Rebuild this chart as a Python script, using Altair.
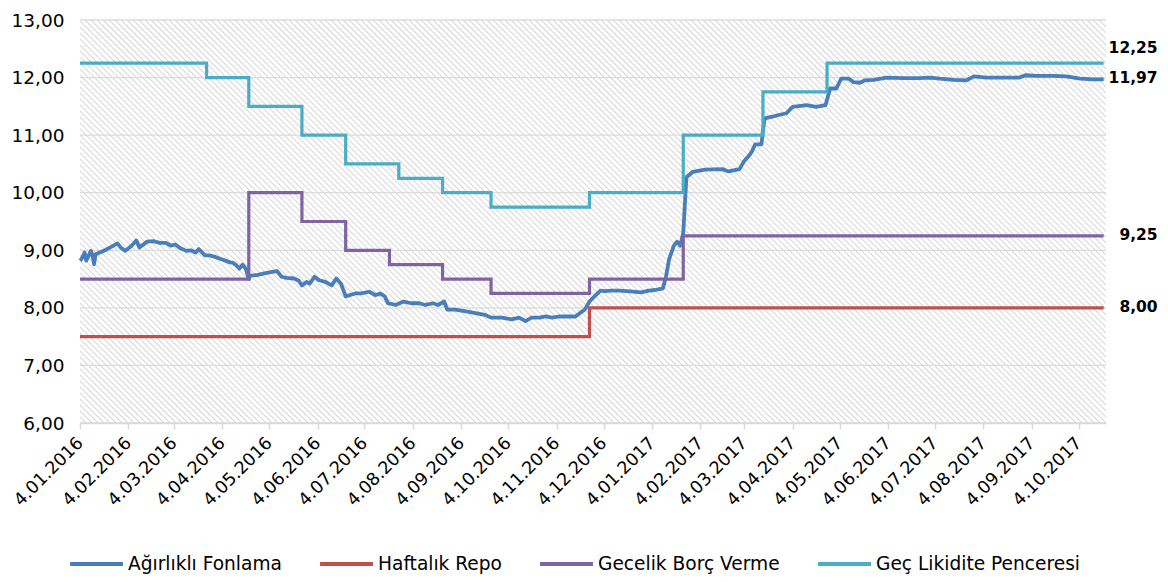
import altair as alt
import pandas as pd

# ---------------- data ----------------
series_names = ["Ağırlıklı Fonlama", "Haftalık Repo", "Gecelik Borç Verme", "Geç Likidite Penceresi"]
series_colors = ["#4a7ebb", "#c0504d", "#8064a2", "#4bacc6"]

fonlama_dates = [
    "2016-01-04", "2016-01-05", "2016-01-07", "2016-01-08", "2016-01-11", "2016-01-12", "2016-01-13",
    "2016-01-14", "2016-01-20", "2016-01-24", "2016-01-28", "2016-01-30", "2016-02-02", "2016-02-06",
    "2016-02-09", "2016-02-11", "2016-02-16", "2016-02-20", "2016-02-24", "2016-02-28", "2016-03-02",
    "2016-03-05", "2016-03-08", "2016-03-12", "2016-03-15", "2016-03-18", "2016-03-20", "2016-03-24",
    "2016-03-27", "2016-03-31", "2016-04-03", "2016-04-06", "2016-04-09", "2016-04-11", "2016-04-13",
    "2016-04-15", "2016-04-17", "2016-04-19", "2016-04-21", "2016-04-22", "2016-04-26", "2016-05-01",
    "2016-05-05", "2016-05-09", "2016-05-12", "2016-05-15", "2016-05-20", "2016-05-23", "2016-05-25",
    "2016-05-28", "2016-05-30", "2016-06-02", "2016-06-05", "2016-06-09", "2016-06-13", "2016-06-16",
    "2016-06-19", "2016-06-22", "2016-06-28", "2016-07-02", "2016-07-07", "2016-07-11", "2016-07-14",
    "2016-07-17", "2016-07-19", "2016-07-24", "2016-07-29", "2016-08-03", "2016-08-08", "2016-08-12",
    "2016-08-17", "2016-08-20", "2016-08-24", "2016-08-26", "2016-08-31", "2016-09-07", "2016-09-13",
    "2016-09-19", "2016-09-23", "2016-09-30", "2016-10-06", "2016-10-11", "2016-10-15", "2016-10-19",
    "2016-10-24", "2016-10-28", "2016-11-01", "2016-11-06", "2016-11-11", "2016-11-16", "2016-11-19",
    "2016-11-22", "2016-11-25", "2016-11-29", "2016-12-02", "2016-12-05", "2016-12-09", "2016-12-14",
    "2016-12-19", "2016-12-28", "2017-01-02", "2017-01-06", "2017-01-11", "2017-01-13", "2017-01-15",
    "2017-01-18", "2017-01-20", "2017-01-22", "2017-01-24", "2017-01-26", "2017-01-30", "2017-02-07",
    "2017-02-18", "2017-02-22", "2017-03-01", "2017-03-04", "2017-03-07", "2017-03-09", "2017-03-11",
    "2017-03-15", "2017-03-17", "2017-03-22", "2017-03-26", "2017-03-31", "2017-04-04", "2017-04-13",
    "2017-04-19", "2017-04-25", "2017-04-28", "2017-05-02", "2017-05-05", "2017-05-10", "2017-05-13",
    "2017-05-17", "2017-05-20", "2017-05-26", "2017-06-03", "2017-06-14", "2017-06-24", "2017-07-01",
    "2017-07-07", "2017-07-16", "2017-07-24", "2017-07-29", "2017-08-06", "2017-08-19", "2017-08-27",
    "2017-08-31", "2017-09-07", "2017-09-18", "2017-09-26", "2017-10-05", "2017-10-13", "2017-10-20",
]
fonlama_values = [
    8.82, 8.85, 8.96, 8.82, 8.99, 8.91, 8.76,
    8.93, 9.00, 9.06, 9.12, 9.05, 8.99, 9.08,
    9.17, 9.05, 9.15, 9.16, 9.13, 9.13, 9.08,
    9.10, 9.04, 8.99, 9.00, 8.96, 9.02, 8.91,
    8.91, 8.88, 8.85, 8.82, 8.79, 8.78, 8.74,
    8.68, 8.75, 8.68, 8.50, 8.56, 8.57, 8.60,
    8.62, 8.64, 8.54, 8.52, 8.51, 8.47, 8.39,
    8.45, 8.42, 8.54, 8.48, 8.45, 8.39, 8.51,
    8.42, 8.20, 8.25, 8.25, 8.28, 8.22, 8.25,
    8.20, 8.08, 8.05, 8.11, 8.08, 8.08, 8.05,
    8.08, 8.05, 8.11, 7.97, 7.97, 7.94, 7.91,
    7.88, 7.83, 7.83, 7.80, 7.83, 7.77, 7.83,
    7.83, 7.85, 7.83, 7.85, 7.85, 7.85, 7.91,
    7.97, 8.11, 8.22, 8.30, 8.29, 8.30, 8.30,
    8.29, 8.27, 8.30, 8.31, 8.34, 8.55, 8.85,
    9.08, 9.15, 9.08, 9.30, 10.27, 10.36, 10.40,
    10.41, 10.37, 10.41, 10.55, 10.64, 10.72, 10.84,
    10.84, 11.29, 11.32, 11.35, 11.38, 11.49, 11.52,
    11.49, 11.52, 11.81, 11.81, 11.98, 11.98, 11.92,
    11.91, 11.95, 11.96, 12.00, 11.99, 11.99, 12.00,
    11.98, 11.96, 11.95, 12.02, 12.00, 12.00, 12.00,
    12.04, 12.03, 12.03, 12.02, 11.98, 11.97, 11.97,
]

repo_dates = ["2016-01-04", "2016-11-25", "2017-10-20"]
repo_values = [7.50, 8.00, 8.00]

borc_dates = ["2016-01-04", "2016-04-21", "2016-05-25", "2016-06-22", "2016-07-20",
              "2016-08-23", "2016-09-23", "2016-11-25", "2017-01-24", "2017-10-20"]
borc_values = [8.50, 10.00, 9.50, 9.00, 8.75, 8.50, 8.25, 8.50, 9.25, 9.25]

glp_dates = ["2016-01-04", "2016-03-25", "2016-04-21", "2016-05-25", "2016-06-22", "2016-07-26",
             "2016-08-23", "2016-09-23", "2016-11-25", "2017-01-24", "2017-03-16", "2017-04-26",
             "2017-10-20"]
glp_values = [12.25, 12.00, 11.50, 11.00, 10.50, 10.25, 10.00, 9.75, 10.00, 11.00, 11.75, 12.25, 12.25]

end_date = "2017-10-20"
end_label_values = [12.25, 11.97, 9.25, 8.00]

y_ticks = [6, 7, 8, 9, 10, 11, 12, 13]
x_tick_dates = [
    "2016-01-04", "2016-02-04", "2016-03-04", "2016-04-04", "2016-05-04", "2016-06-04",
    "2016-07-04", "2016-08-04", "2016-09-04", "2016-10-04", "2016-11-04", "2016-12-04",
    "2017-01-04", "2017-02-04", "2017-03-04", "2017-04-04", "2017-05-04", "2017-06-04",
    "2017-07-04", "2017-08-04", "2017-09-04", "2017-10-04",
]

# ---------------- layout / style ----------------
W, H = 1026, 403
FONT = "DejaVu Sans"
HATCH_STEP = 6


def dt(s):
    parts = s.split("-")
    return alt.DateTime(year=int(parts[0]), month=int(parts[1]), date=int(parts[2]), utc=True)


fon_df = pd.DataFrame({"date": fonlama_dates, "value": fonlama_values, "series": series_names[0]})
step_df = pd.concat([
    pd.DataFrame({"date": repo_dates, "value": repo_values, "series": series_names[1]}),
    pd.DataFrame({"date": borc_dates, "value": borc_values, "series": series_names[2]}),
    pd.DataFrame({"date": glp_dates, "value": glp_values, "series": series_names[3]}),
], ignore_index=True)
end_df = pd.DataFrame({"date": [end_date] * len(end_label_values), "value": end_label_values})
grid_df = pd.DataFrame({"v": y_ticks})

offsets = list(range(-H, W + HATCH_STEP, HATCH_STEP))
hatch_df = pd.DataFrame({
    "x1": offsets,
    "x2": [o + H for o in offsets],
    "y1": [H] * len(offsets),
    "y2": [0] * len(offsets),
})

x_scale = alt.Scale(type="utc", domain=[dt("2016-01-04"),
                                        alt.DateTime(year=2017, month=10, date=21, hours=12, utc=True)],
                    nice=False)
y_scale = alt.Scale(domain=[6, 13], nice=False, zero=False)
color_scale = alt.Scale(domain=series_names, range=series_colors)

x_axis = alt.Axis(
    values=[dt(d) for d in x_tick_dates],
    labelExpr="utcFormat(datum.value, '%-d.%m.%Y')",
    labelAngle=-45, labelAlign="right", labelBaseline="middle",
    labelFont=FONT, labelFontSize=17.5, labelColor="#000000",
    labelPadding=11, labelOverlap=False, labelBound=False, labelFlush=False,
    tickSize=6, tickColor="#d9d9d9", tickWidth=1.5,
    domainColor="#d9d9d9", domainWidth=1.5,
    grid=False, title=None, zindex=1,
)
y_axis = alt.Axis(
    values=y_ticks,
    labelExpr="replace(format(datum.value, '.2f'), '.', ',')",
    labelFont=FONT, labelFontSize=18.5, labelColor="#000000",
    labelPadding=16, ticks=False, domain=False, grid=False, title=None,
)

legend = alt.Legend(
    orient="none", legendX=-12, legendY=515, direction="horizontal", columns=4,
    title=None, symbolType="stroke", symbolSize=2800, symbolStrokeWidth=4,
    labelFont=FONT, labelFontSize=18.6, labelColor="#000000", labelLimit=400,
    labelOffset=3, columnPadding=30,
)

hatch = alt.Chart(hatch_df).mark_rule(color="#d8d8d8", strokeWidth=1.1, clip=True).encode(
    x=alt.X("x1:Q", scale=alt.Scale(domain=[0, W], nice=False, zero=False), axis=None),
    x2="x2:Q",
    y=alt.Y("y1:Q", scale=alt.Scale(domain=[0, H], nice=False, zero=False), axis=None),
    y2="y2:Q",
)

grid = alt.Chart(grid_df).mark_rule(color="#dcdcdc", strokeWidth=1.3).encode(
    y=alt.Y("v:Q", scale=y_scale, axis=y_axis),
)

fon_line = alt.Chart(fon_df).mark_line(strokeWidth=3.8, strokeJoin="round").encode(
    x=alt.X("date:T", scale=x_scale, axis=x_axis),
    y=alt.Y("value:Q", scale=y_scale),
    color=alt.Color("series:N", scale=color_scale, legend=legend),
)

step_lines = alt.Chart(step_df).mark_line(strokeWidth=3.2, interpolate="step-after").encode(
    x=alt.X("date:T", scale=x_scale),
    y=alt.Y("value:Q", scale=y_scale),
    color=alt.Color("series:N", scale=color_scale, legend=legend),
    detail="series:N",
)

label_base = alt.Chart(end_df).transform_calculate(
    label="replace(format(datum.value, '.2f'), '.', ',')"
)
labels_main = label_base.transform_filter("datum.value < 12.1").mark_text(
    align="right", baseline="middle", dx=54, dy=-1,
    font=FONT, fontSize=15.5, fontWeight="bold", color="#000000",
).encode(x=alt.X("date:T", scale=x_scale), y=alt.Y("value:Q", scale=y_scale), text="label:N")
labels_top = label_base.transform_filter("datum.value >= 12.1").mark_text(
    align="right", baseline="middle", dx=54, dy=-15,
    font=FONT, fontSize=15.5, fontWeight="bold", color="#000000",
).encode(x=alt.X("date:T", scale=x_scale), y=alt.Y("value:Q", scale=y_scale), text="label:N")

main = alt.layer(grid, fon_line, step_lines, labels_main, labels_top)

chart = alt.layer(hatch, main).resolve_scale(x="independent", y="independent").properties(
    width=W, height=H,
    autosize=alt.AutoSizeParams(type="none"),
    padding={"left": 72, "top": 12, "right": 54, "bottom": 151},
    background="#ffffff",
).configure_view(strokeWidth=0)

chart.save("out.html", embed_options={"renderer": "svg", "actions": False})
